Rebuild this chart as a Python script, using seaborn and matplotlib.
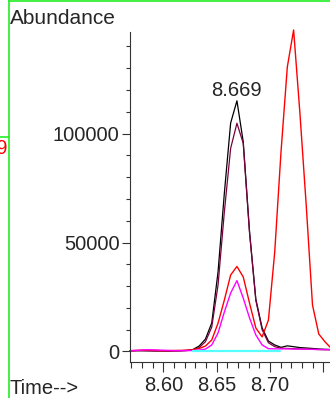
import matplotlib
matplotlib.use("Agg")
import matplotlib.pyplot as plt
from matplotlib.lines import Line2D
from matplotlib.ticker import MultipleLocator, FixedLocator
import numpy as np
import pandas as pd
import seaborn as sns

# ---- data ----
time = [8.5687, 8.5746, 8.5805, 8.5864, 8.5923, 8.5982, 8.6041, 8.6100, 8.6159,
        8.6218, 8.6277, 8.6336, 8.6395, 8.6454, 8.6513, 8.6572, 8.6631, 8.6690,
        8.6749, 8.6808, 8.6867, 8.6926, 8.6985, 8.7044, 8.7103, 8.7162, 8.7221,
        8.7280, 8.7339, 8.7398, 8.7457, 8.7516, 8.7575]

ion_black = [300, 400, 400, 350, 300, 300, 250, 300, 350, 500, 900, 2500, 5700,
             13100, 36500, 72600, 104800, 115000, 96200, 55000, 24000, 10800,
             4800, 3000, 1900, 2600, 2200, 1800, 1600, 1400, 1150, 1000, 900]
ion_maroon = [250, 350, 350, 300, 250, 250, 200, 250, 300, 400, 700, 1800, 4500,
              11200, 30500, 64000, 93200, 104700, 95500, 54500, 23500, 10000,
              4000, 2200, 1500, 1400, 1300, 1200, 1100, 1000, 900, 800, 800]
ion_red = [400, 500, 600, 600, 500, 400, 400, 450, 500, 600, 800, 1400, 2500,
           5300, 13000, 23600, 35100, 39000, 34200, 22200, 10800, 6700, 14400,
           45600, 91600, 130500, 147500, 109400, 67200, 21300, 8000, 4400, 1400]
ion_magenta = [300, 500, 700, 800, 700, 600, 500, 400, 400, 400, 450, 700, 1100,
               3000, 8500, 18100, 26800, 32500, 24500, 15400, 7600, 3000, 1300,
               1200, 1200, 1200, 1100, 1100, 1000, 1000, 900, 900, 800]
baseline_t = [8.6278, 8.7094]
baseline_v = [0, 0]

yticks = [0, 50000, 100000]
ytick_labels = ["0", "50000", "100000"]
xticks = [8.60, 8.65, 8.70, 8.75]
xtick_labels = ["8.60", "8.65", "8.70", ""]

# ---- style ----
sns.set_style("ticks")
plt.rcParams["font.family"] = ["Liberation Sans", "DejaVu Sans"]
FS = 14.5

W, H = 330, 398
fig = plt.figure(figsize=(W / 100, H / 100), dpi=100)
ax = fig.add_axes([130 / W, 36.3 / H, 200 / W, 330 / H])

series = [
    (ion_black, "#000000", 0.9),
    (ion_maroon, "#7a0040", 0.9),
    (ion_red, "#ff0000", 1.0),
    (ion_magenta, "#ff00ff", 1.0),
]
for vals, col, lw in series:
    sns.lineplot(x=time, y=vals, ax=ax, color=col, lw=lw, estimator=None, sort=False)
sns.lineplot(x=baseline_t, y=baseline_v, ax=ax, color="#55ffff", lw=1.6,
             estimator=None, sort=False)
for ln in ax.lines:
    ln.set_clip_on(False)

ax.set_xlim(8.5688, 8.7562)
ax.set_ylim(-4680, 146700)

ax.xaxis.set_major_locator(FixedLocator(xticks))
ax.set_xticklabels(xtick_labels)
ax.xaxis.set_minor_locator(MultipleLocator(0.01))
ax.yaxis.set_major_locator(FixedLocator(yticks))
ax.set_yticklabels(ytick_labels)
ax.yaxis.set_minor_locator(FixedLocator(list(range(0, 146000, 10000))))

ax.tick_params(axis="x", which="major", length=7, width=0.8, pad=3, labelsize=FS, color="#333333")
ax.tick_params(axis="x", which="minor", length=4.5, width=0.8, color="#333333")
ax.tick_params(axis="y", which="major", length=6, width=0.8, pad=1.5, labelsize=FS, color="#333333")
ax.tick_params(axis="y", which="minor", length=3, width=0.8, color="#333333")
for s in ["top", "right"]:
    ax.spines[s].set_visible(False)
for s in ["left", "bottom"]:
    ax.spines[s].set_linewidth(0.8)
    ax.spines[s].set_color("#333333")
ax.set_xlabel("")
ax.set_ylabel("")
ax.set_facecolor("white")

# peak label
ip = int(np.argmax(ion_black))
ax.annotate(f"{time[ip]:.3f}", xy=(time[ip], ion_black[ip]), xytext=(0, 0.5),
            textcoords="offset points", ha="center", va="bottom", fontsize=FS)

# axis titles
fig.text(10 / W, 1 - 18 / H, "Abundance", ha="left", va="center", fontsize=15)
fig.text(10 / W, 1 - 388 / H, "Time-->", ha="left", va="center", fontsize=FS)

# green frame artefacts
g = "#22ee22"
fig.add_artist(Line2D([8.5 / W, 8.5 / W], [0, 1], transform=fig.transFigure, color=g, lw=1.2))
fig.add_artist(Line2D([8.5 / W, 1], [1 - 0.8 / H, 1 - 0.8 / H], transform=fig.transFigure, color=g, lw=1.2))
fig.add_artist(Line2D([0, 8.5 / W], [1 - 136.7 / H, 1 - 136.7 / H], transform=fig.transFigure, color=g, lw=1.2))
fig.text(8 / W, 1 - 148 / H, "89", ha="right", va="center", fontsize=FS, color="#ff0000")

fig.savefig("out.png", dpi=100)
